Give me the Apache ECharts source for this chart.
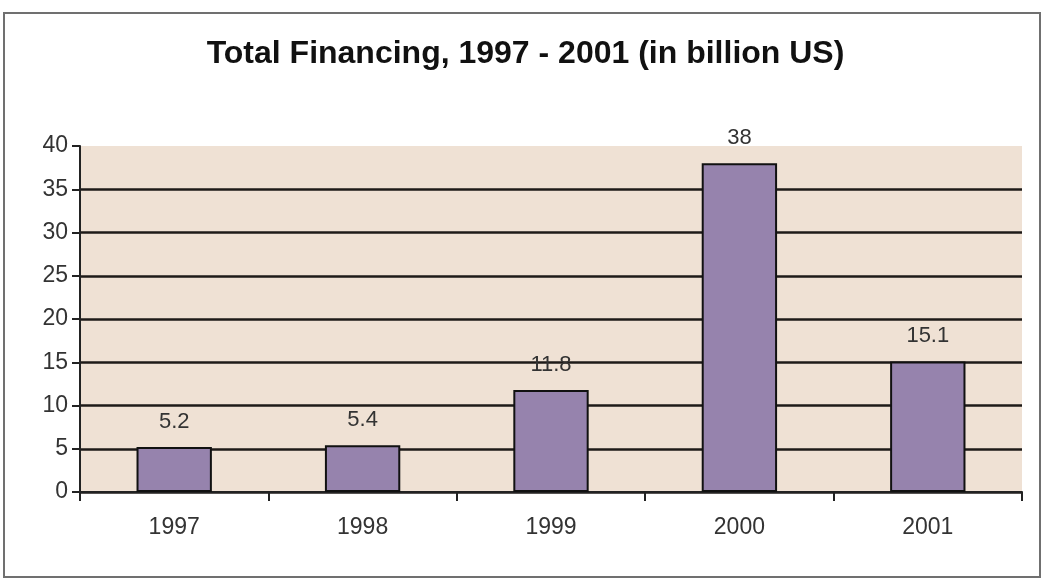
<!DOCTYPE html>
<html>
<head>
<meta charset="utf-8">
<script src="https://cdn.jsdelivr.net/npm/echarts@6/dist/echarts.min.js"></script>
<style>
html,body{margin:0;padding:0;background:#fff;}
#c{width:1051px;height:582px;}
</style>
</head>
<body>
<div id="c"></div>
<script>
var titleText = 'Total Financing, 1997 - 2001 (in billion US)';
var categories = ['1997', '1998', '1999', '2000', '2001'];
var values = [5.2, 5.4, 11.8, 38, 15.1];

var chart = echarts.init(document.getElementById('c'), null, {renderer: 'canvas'});
chart.setOption({
  backgroundColor: '#ffffff',
  animation: false,
  title: {
    text: titleText,
    left: 'center',
    top: 33,
    textStyle: {fontFamily: 'Liberation Sans', fontWeight: 'bold', fontSize: 32, color: '#111'}
  },
  graphic: [{
    type: 'rect',
    shape: {x: 4, y: 13, width: 1036, height: 564},
    style: {fill: 'none', stroke: '#707070', lineWidth: 2},
    silent: true
  }],
  grid: {
    left: 80, right: 29, top: 146, bottom: 90,
    show: true, backgroundColor: '#efe1d4', borderWidth: 0
  },
  xAxis: {
    type: 'category',
    data: categories,
    axisLine: {lineStyle: {color: '#222', width: 2}},
    axisTick: {show: true, length: 9, lineStyle: {color: '#222', width: 2}},
    axisLabel: {fontFamily: 'Liberation Sans', fontSize: 23, color: '#333', margin: 24}
  },
  yAxis: {
    type: 'value',
    min: 0, max: 40, interval: 5,
    axisLine: {show: true, lineStyle: {color: '#222', width: 2}},
    axisTick: {show: true, length: 8, lineStyle: {color: '#222', width: 2}},
    axisLabel: {fontFamily: 'Liberation Sans', fontSize: 23, color: '#333', margin: 12},
    splitLine: {show: true, showMaxLine: false, lineStyle: {color: '#1e1a18', width: 2.5}}
  },
  series: [{
    type: 'bar',
    data: values,
    barWidth: '40%',
    itemStyle: {color: '#9683ad', borderColor: '#111', borderWidth: 2},
    label: {
      show: true, position: 'top', distance: 14,
      fontFamily: 'Liberation Sans', fontSize: 22, color: '#333'
    }
  }]
});
</script>
</body>
</html>
